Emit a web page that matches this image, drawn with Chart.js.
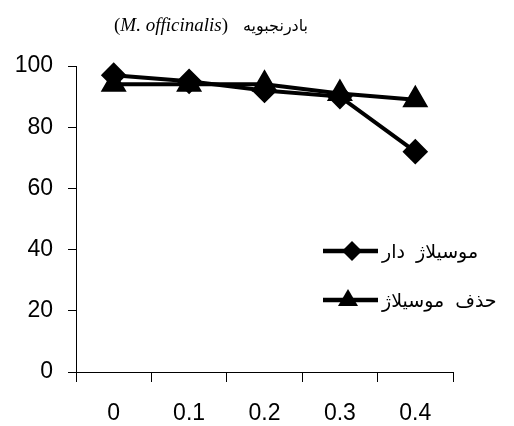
<!DOCTYPE html>
<html>
<head>
<meta charset="utf-8">
<script src="https://cdn.jsdelivr.net/npm/chart.js@4"></script>
<style>
  html, body { margin: 0; padding: 0; background: #fff; }
  .wrap { position: relative; width: 514px; height: 426px; }
  .title {
    position: absolute; left: 114px; top: 14px; white-space: nowrap;
    font-family: "Liberation Serif", serif; font-size: 19px; color: #000;
  }
  .title .fa { font-family: "DejaVu Sans", sans-serif; font-size: 16px; margin-left: 15px; }
  .legend { position: absolute; left: 322px; top: 237px; font-family: "DejaVu Sans", sans-serif; font-size: 19px; word-spacing: 5px; }
  .legend div { height: 49px; display: flex; align-items: flex-start; }
  .legend svg { margin-right: 3px; }
</style>
</head>
<body>
<div class="wrap">
  <canvas id="c" width="514" height="426"></canvas>
  <div class="title"><span>(<i>M. officinalis</i>)</span><span class="fa">بادرنجبویه</span></div>
  <div class="legend">
    <div><svg width="57" height="28"><line x1="1" y1="14" x2="56" y2="14" stroke="#000" stroke-width="4.5"/><polygon points="30,4 40,14 30,24 20,14" fill="#000"/></svg><span style="line-height:28px">موسیلاژ دار</span></div>
    <div><svg width="57" height="28"><line x1="1" y1="14" x2="56" y2="14" stroke="#000" stroke-width="4.5"/><polygon points="26,3 36,20 16,20" fill="#000"/></svg><span style="line-height:28px">حذف موسیلاژ</span></div>
  </div>
</div>
<script>
const categories = ["0", "0.1", "0.2", "0.3", "0.4"];
const withMucilage = [97, 95, 92, 90, 72];
const mucilageRemoved = [94, 94, 94, 91, 89];
const seriesNames = ["موسیلاژ دار", "حذف موسیلاژ"];

Chart.defaults.font.family = "'Liberation Sans', Arial, sans-serif";
Chart.defaults.color = "#000";

new Chart(document.getElementById("c"), {
  type: "line",
  data: {
    labels: categories,
    datasets: [
      {
        label: seriesNames[0],
        data: withMucilage,
        borderColor: "#000",
        backgroundColor: "#000",
        borderWidth: 4,
        pointStyle: "rectRot",
        pointRadius: 10,
        tension: 0,
      },
      {
        label: seriesNames[1],
        data: mucilageRemoved,
        borderColor: "#000",
        backgroundColor: "#000",
        borderWidth: 4,
        pointStyle: "triangle",
        pointRadius: 11,
        tension: 0,
      },
    ],
  },
  options: {
    responsive: false,
    animation: false,
    clip: false,
    layout: { padding: { top: 66, right: 61, left: 0, bottom: 0 } },
    plugins: { legend: { display: false }, tooltip: { enabled: false } },
    scales: {
      x: {
        offset: true,
        grid: { offset: true, drawOnChartArea: false, color: "#000", tickLength: 10, tickWidth: 1 },
        border: { color: "#000", width: 1 },
        ticks: { font: { size: 23 }, padding: 18, maxRotation: 0 },
        afterFit: (scale) => { scale.height = 54; },
      },
      y: {
        min: 0,
        max: 100,
        grid: { drawOnChartArea: false, color: "#000", tickLength: 8, tickWidth: 1 },
        border: { color: "#000", width: 1 },
        ticks: { stepSize: 20, font: { size: 23 }, padding: 15 },
        afterFit: (scale) => { scale.width = 76; },
      },
    },
  },
});
</script>
</body>
</html>
